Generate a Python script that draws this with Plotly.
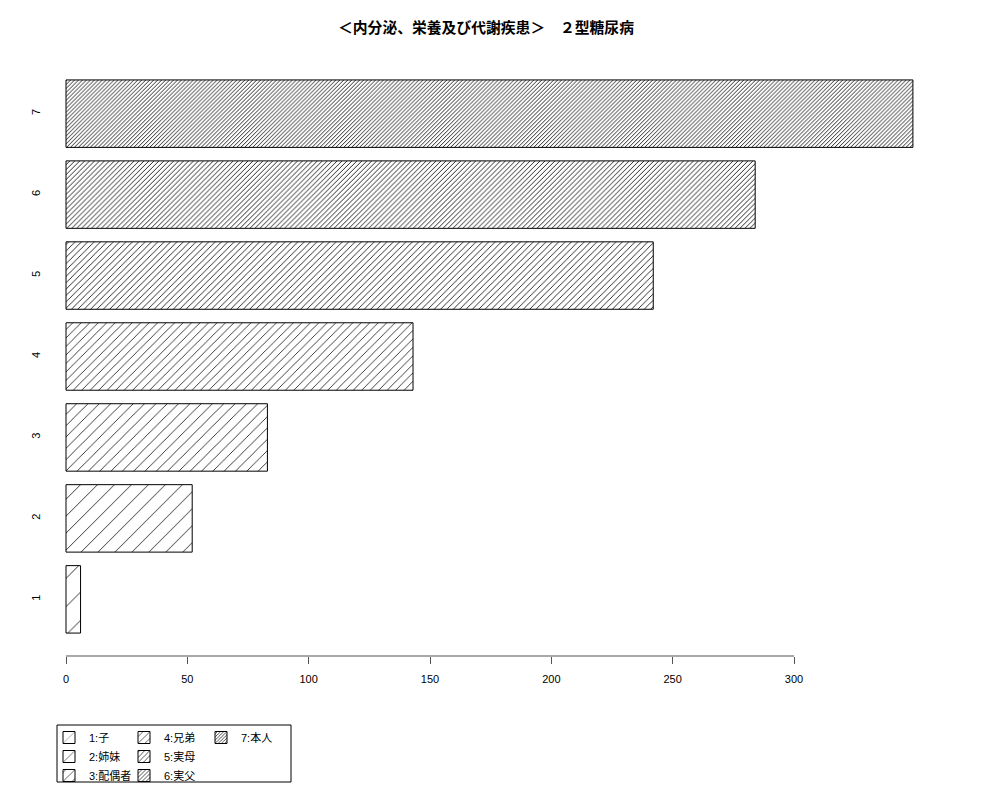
import plotly.graph_objects as go

# ---- data ----
categories = ["1", "2", "3", "4", "5", "6", "7"]
values = [6, 52, 83, 143, 242, 284, 349]
legend_labels = ["1:子", "2:姉妹", "3:配偶者", "4:兄弟", "5:実母", "6:実父", "7:本人"]
x_ticks = [0, 50, 100, 150, 200, 250, 300]
title_text = "＜内分泌、栄養及び代謝疾患＞　２型糖尿病"

# ---- styles ----
pattern_sizes = [20, 12, 8, 6, 4.5, 3.5, 2.8]
pattern_solidity = [0.04, 0.065, 0.095, 0.125, 0.18, 0.24, 0.3]
legend_groups = ["legend", "legend", "legend", "legend2", "legend2", "legend2", "legend3"]

FONT = "Liberation Sans, Noto Sans CJK JP, sans-serif"

# plot area in pixels
L, R, T, B = 50, 947, 57, 656
W, H = 1000, 800

def px_x(p):
    return (p - L) / (R - L)

def px_y(p):
    return (B - p) / (B - T)

fig = go.Figure()
for i, (cat, val) in enumerate(zip(categories, values)):
    fig.add_trace(go.Bar(
        x=[val], y=[int(cat)], orientation="h", width=1 / 1.2,
        name=legend_labels[i], legend=legend_groups[i],
        marker=dict(
            color="white",
            line=dict(color="black", width=1),
            pattern=dict(shape="/", size=pattern_sizes[i], solidity=pattern_solidity[i],
                         fgcolor="black", fgopacity=1, bgcolor="white", fillmode="overlay"),
        ),
        hoverinfo="x+y",
    ))

scale = 2.4267  # px per unit
x_left = -(66 - L) / scale
x_right = x_left + (R - L) / scale

legend_common = dict(bgcolor="rgba(0,0,0,0)", borderwidth=0, font=dict(family=FONT, size=11, color="black"),
                     xanchor="left", yanchor="top", orientation="v", tracegroupgap=0, itemwidth=30)

fig.update_layout(
    width=W, height=H,
    margin=dict(l=L, r=W - R, t=T, b=H - B, pad=0, autoexpand=False),
    paper_bgcolor="white", plot_bgcolor="white",
    barmode="overlay",
    title=dict(text=f"<b>{title_text}</b>", x=0.486, xref="container", xanchor="center",
               y=1 - 28 / H, yref="container", yanchor="middle",
               font=dict(family="Noto Sans CJK JP, sans-serif", size=14.8, color="black")),
    xaxis=dict(range=[x_left, x_right], tickvals=x_ticks, ticktext=[str(t) for t in x_ticks],
               ticks="outside", ticklen=7, tickcolor="#555", tickwidth=1,
               showline=False, showgrid=False, zeroline=False, ticklabelstandoff=6,
               automargin=False,
               tickfont=dict(family=FONT, size=11, color="black")),
    yaxis=dict(range=[0.3, 7.7], tickvals=[int(c) for c in categories], ticktext=categories,
               tickangle=-90, ticks="", showline=False, showgrid=False, zeroline=False,
               ticklabelstandoff=7, automargin=False,
               tickfont=dict(family=FONT, size=11, color="black")),
    showlegend=True,
    legend=dict(x=px_x(49), y=px_y(723), **legend_common),
    legend2=dict(x=px_x(124), y=px_y(723), **legend_common),
    legend3=dict(x=px_x(201), y=px_y(723), **legend_common),
)

# x axis line spanning only the tick range
fig.add_shape(type="line", xref="x", yref="paper", x0=min(x_ticks), x1=max(x_ticks), y0=0, y1=0,
              line=dict(color="#555", width=1))
# legend box
fig.add_shape(type="rect", xref="paper", yref="paper",
              x0=px_x(57), x1=px_x(291), y0=px_y(725), y1=px_y(782),
              line=dict(color="black", width=1), fillcolor="rgba(0,0,0,0)")

fig.write_html("out.html", config={"displayModeBar": False},
               post_script="document.body.style.margin='0';")
